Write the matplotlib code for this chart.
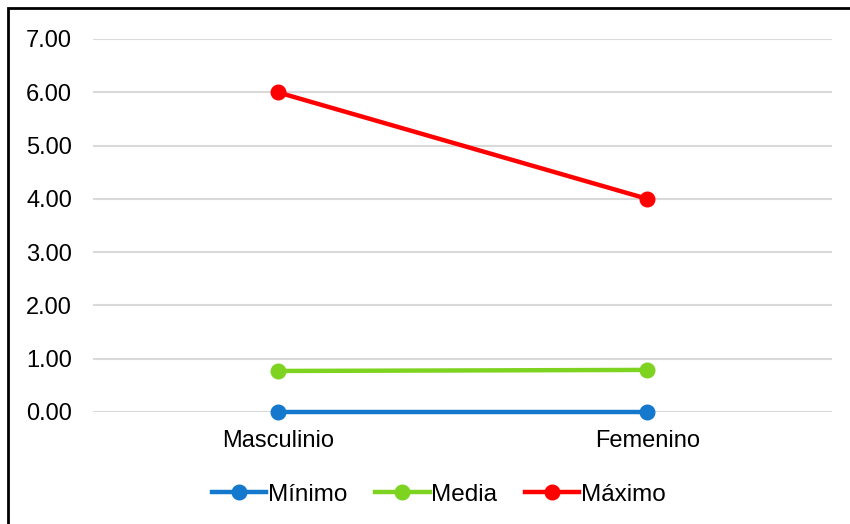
import matplotlib.pyplot as plt
from matplotlib.patches import Rectangle

plt.rcParams['font.family'] = ['Liberation Sans', 'DejaVu Sans']

# Datos
categorias = ['Masculinio', 'Femenino']
minimo = [0.0, 0.0]
media = [0.77, 0.79]
maximo = [6.0, 4.0]

fig = plt.figure(figsize=(8.5, 5.24), dpi=100)
ax = fig.add_axes([93 / 850, (524 - 412) / 524, 739 / 850, (412 - 39) / 524])

x = range(len(categorias))
ax.plot(x, minimo, color='#1478cc', lw=3.2, marker='o', ms=10.5, label='Mínimo', zorder=3, clip_on=False)
ax.plot(x, media, color='#7ed321', lw=3.2, marker='o', ms=10.5, label='Media', zorder=3, clip_on=False)
ax.plot(x, maximo, color='#ff0000', lw=3.2, marker='o', ms=10.5, label='Máximo', zorder=3, clip_on=False)

ax.set_xlim(-0.5, 1.5)
ax.set_ylim(0, 7)
ax.set_yticks(range(8))
ax.set_yticklabels([f'{v:.2f}' for v in range(8)])
ax.set_xticks(list(x))
ax.set_xticklabels(categorias)
ax.tick_params(axis='both', length=0, labelsize=17)
ax.tick_params(axis='y', pad=15)
ax.tick_params(axis='x', pad=13)
ax.grid(axis='y', color='#d9d9d9', lw=1.5)
ax.set_axisbelow(True)
for s in ax.spines.values():
    s.set_visible(False)

ax.legend(loc='center', bbox_to_anchor=(0.4675, -0.222), ncol=3, frameon=False,
          fontsize=17.5, handlelength=2.25, handletextpad=0.05, columnspacing=1.15)

fig.patches.append(Rectangle((8 / 850, -0.01), 850 / 850, 1 - 8 / 524 + 0.01,
                             transform=fig.transFigure, fill=False,
                             edgecolor='black', lw=2))

fig.savefig('out.png', dpi=100)
